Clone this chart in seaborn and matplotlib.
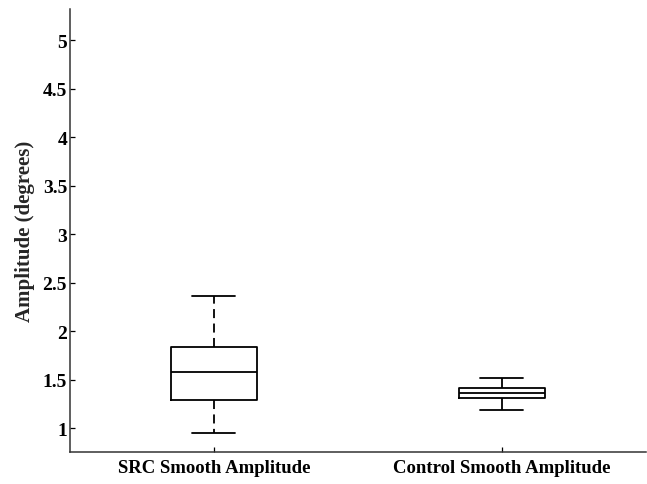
import pandas as pd
import matplotlib.pyplot as plt
import seaborn as sns

# Five-number summaries (min, Q1, median, Q3, max)
categories = ["SRC Smooth Amplitude", "Control Smooth Amplitude"]
src_values = [0.95, 1.29, 1.577, 1.835, 2.36]
control_values = [1.186, 1.309, 1.361, 1.412, 1.515]
y_ticks = [1, 1.5, 2, 2.5, 3, 3.5, 4, 4.5, 5]
y_tick_labels = ["1", "1.5", "2", "2.5", "3", "3.5", "4", "4.5", "5"]

df = pd.DataFrame({
    "group": [categories[0]] * len(src_values) + [categories[1]] * len(control_values),
    "amplitude": src_values + control_values,
})

sns.set_style("ticks")
plt.rcParams["font.family"] = ["Liberation Serif", "DejaVu Serif"]
plt.rcParams["font.weight"] = "bold"

fig = plt.figure(figsize=(6.47, 4.85), dpi=100)
ax = fig.add_axes([0.108, 0.066, 0.89, 0.913])

sns.boxplot(
    data=df, x="group", y="amplitude", order=categories,
    width=0.30, whis=1.5, fill=False, color="black", linecolor="black",
    linewidth=1.3, showfliers=False, ax=ax,
)

# MATLAB-style dashed whiskers on the first box
cont = ax.containers[0]
for i, line in enumerate(cont.whiskers):
    line.set_color("black")
    if i < 2:
        line.set_linestyle((0, (5, 3)))
for line in list(cont.boxes) + list(cont.medians) + list(cont.caps):
    line.set_color("black")

ax.set_xlim(-0.5, 1.5)
ax.set_ylim(0.753, 5.32)
ax.set_yticks(y_ticks)
ax.set_yticklabels(y_tick_labels)
ax.set_xlabel("")
ax.set_ylabel("Amplitude (degrees)", fontsize=15, fontweight="bold")
ax.yaxis.set_label_coords(-0.06, 0.5)
ax.tick_params(axis="both", direction="in", length=3.5, width=0.9, colors="black")
ax.tick_params(axis="y", labelsize=14, pad=2)
ax.tick_params(axis="x", labelsize=13.5, pad=5)

for side in ["top", "right"]:
    ax.spines[side].set_visible(False)
for side in ["left", "bottom"]:
    ax.spines[side].set_linewidth(1.1)
    ax.spines[side].set_color("#333333")

fig.savefig("out.png", dpi=100)
